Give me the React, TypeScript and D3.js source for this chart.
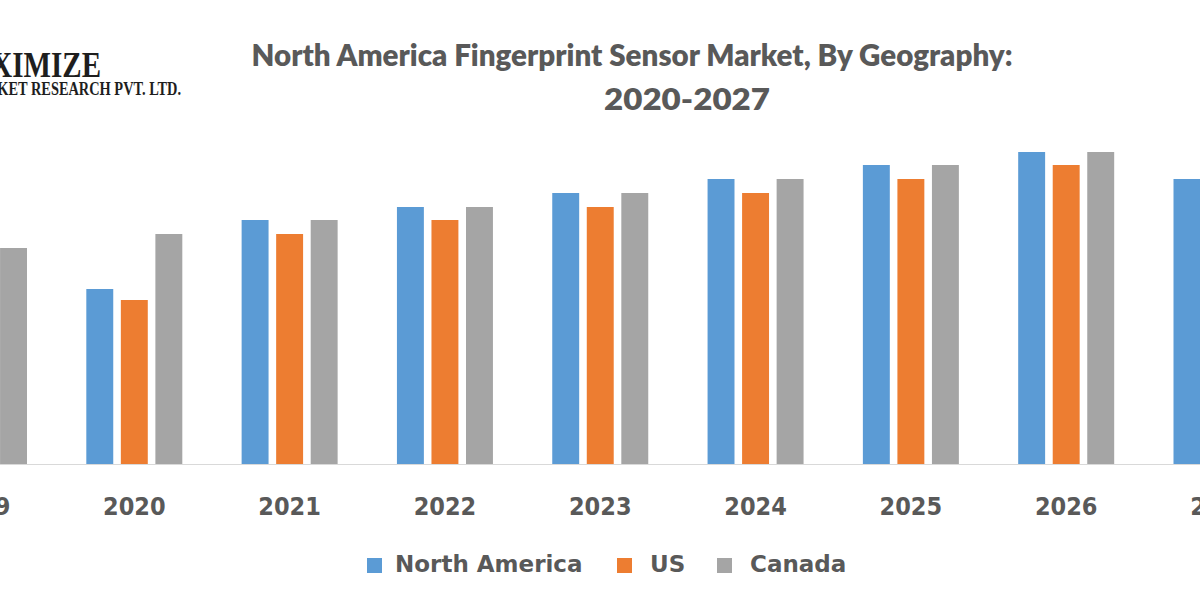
import * as d3 from 'd3';
import React, { useRef, useEffect } from 'react';

const years = ['2019', '2020', '2021', '2022', '2023', '2024', '2025', '2026', '2027'];
const seriesNames = ['North America', 'US', 'Canada'];
const seriesColors = ['#5B9BD5', '#ED7D31', '#A5A5A5'];

// market size per year, arbitrary units
const northAmerica = [2.0, 1.75, 2.44, 2.57, 2.71, 2.85, 2.99, 3.12, 2.85];
const us = [1.9, 1.64, 2.3, 2.44, 2.57, 2.71, 2.85, 2.99, 2.71];
const canada = [2.16, 2.3, 2.44, 2.57, 2.71, 2.85, 2.99, 3.12, 2.85];

const titleLines = ['North America Fingerprint Sensor Market, By Geography:', '2020-2027'];

const App: React.FC = () => {
    const svgRef = useRef<SVGSVGElement | null>(null);

    useEffect(() => {
        document.body.style.margin = '0';
        const width = 1200;
        const height = 600;
        const baseY = 464;

        const svg = d3.select(svgRef.current)
            .attr('width', width)
            .attr('height', height);
        svg.selectAll('*').remove();

        svg.append('rect')
            .attr('width', width)
            .attr('height', height)
            .attr('fill', '#FFFFFF');

        const rows = years.map((y, i) => ({
            year: y,
            values: [northAmerica[i], us[i], canada[i]],
        }));

        // group centres; first and last groups run off the edges
        const x0 = d3.scalePoint<string>()
            .domain(years)
            .range([-21, 1221.5]);

        const x1 = d3.scaleBand<string>()
            .domain(seriesNames)
            .range([-48, 48])
            .paddingInner(0.22);

        const yScale = d3.scaleLinear()
            .domain([0, 3.5])
            .range([baseY, baseY - 350]);

        // bars
        const groups = svg.append('g')
            .selectAll('g')
            .data(rows)
            .enter()
            .append('g')
            .attr('transform', d => `translate(${x0(d.year)}, 0)`);

        groups.selectAll('rect')
            .data(d => d.values.map((v, i) => ({ name: seriesNames[i], value: v, color: seriesColors[i] })))
            .enter()
            .append('rect')
            .attr('x', d => x1(d.name)!)
            .attr('width', x1.bandwidth())
            .attr('y', d => yScale(d.value))
            .attr('height', d => baseY - yScale(d.value))
            .attr('fill', d => d.color);

        // category axis
        svg.append('line')
            .attr('x1', 0)
            .attr('x2', width)
            .attr('y1', baseY + 0.5)
            .attr('y2', baseY + 0.5)
            .attr('stroke', '#D9D9D9')
            .attr('stroke-width', 1);

        svg.append('g')
            .selectAll('text')
            .data(years)
            .enter()
            .append('text')
            .attr('x', d => x0(d)!)
            .attr('y', 515)
            .attr('text-anchor', 'middle')
            .attr('font-family', '"DejaVu Sans Condensed", "DejaVu Sans", sans-serif')
            .attr('font-stretch', 'condensed')
            .attr('font-weight', 'bold')
            .attr('font-size', 25)
            .attr('fill', '#595959')
            .text(d => d);

        // title
        svg.append('text')
            .attr('x', 632)
            .attr('y', 66)
            .attr('text-anchor', 'middle')
            .attr('font-family', 'Lato, sans-serif')
            .attr('font-weight', 800)
            .attr('font-size', 30)
            .attr('fill', '#595959')
            .attr('textLength', 761)
            .attr('lengthAdjust', 'spacingAndGlyphs')
            .text(titleLines[0]);

        svg.append('text')
            .attr('x', 687)
            .attr('y', 110)
            .attr('text-anchor', 'middle')
            .attr('font-family', 'Lato, sans-serif')
            .attr('font-weight', 800)
            .attr('font-size', 30)
            .attr('fill', '#595959')
            .attr('textLength', 166)
            .attr('lengthAdjust', 'spacingAndGlyphs')
            .text(titleLines[1]);

        // company mark, top left
        svg.append('text')
            .attr('x', 101)
            .attr('y', 77)
            .attr('text-anchor', 'end')
            .attr('font-family', '"Liberation Serif", serif')
            .attr('font-weight', 'bold')
            .attr('font-size', 35)
            .attr('fill', '#1E1E1E')
            .attr('textLength', 158)
            .attr('lengthAdjust', 'spacingAndGlyphs')
            .text('MAXIMIZE');

        svg.append('text')
            .attr('x', 181)
            .attr('y', 95)
            .attr('text-anchor', 'end')
            .attr('font-family', '"Liberation Serif", serif')
            .attr('font-weight', 'bold')
            .attr('font-size', 18)
            .attr('fill', '#1E1E1E')
            .attr('textLength', 218)
            .attr('lengthAdjust', 'spacingAndGlyphs')
            .text('MARKET RESEARCH PVT. LTD.');

        // legend
        const legendX = [367, 617, 717];
        const legend = svg.append('g')
            .selectAll('g')
            .data(seriesNames)
            .enter()
            .append('g')
            .attr('transform', (d, i) => `translate(${legendX[i]}, 558)`);

        legend.append('rect')
            .attr('width', 15)
            .attr('height', 15)
            .attr('fill', (d, i) => seriesColors[i]);

        legend.append('text')
            .attr('x', (d, i) => [28, 33, 33][i])
            .attr('y', 14)
            .attr('font-family', '"DejaVu Sans", sans-serif')
            .attr('font-weight', 'bold')
            .attr('font-size', 23)
            .attr('fill', '#595959')
            .text(d => d);
    }, []);

    return <svg ref={svgRef} style={{ display: 'block' }}></svg>;
};

export default App;
